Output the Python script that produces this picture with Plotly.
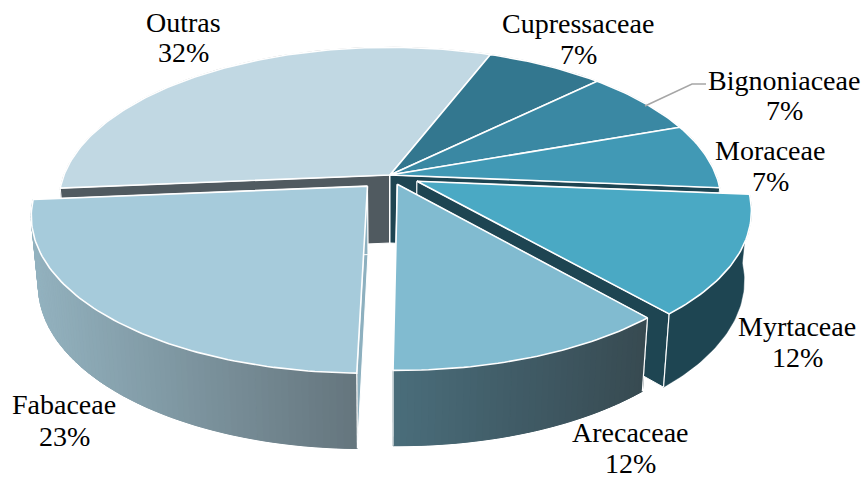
import math
import plotly.graph_objects as go

categories = ["Cupressaceae", "Bignoniaceae", "Moraceae", "Myrtaceae", "Arecaceae", "Fabaceae", "Outras"]
values = [6.8, 6.9, 6.8, 12.3, 11.6, 23.4, 32.2]
pulls = [0, 0, 0, 0.092, 0.065, 0.10, 0]
top_colors = ["#33778f", "#3a88a3", "#4199b5", "#4aa9c4", "#81bbd0", "#a6cbdb", "#c1d8e3"]
side_left = ["#1e4552", "#1e4552", "#1e4552", "#1e4552", "#4a6d7b", "#93b2bf", "#505a60"]
side_right = ["#1e4552", "#1e4552", "#1e4552", "#1e4552", "#374a51", "#65757d", "#505a60"]
wall_start = ["#1e4552", "#1e4552", "#1e4552", "#1e4552", "#1e4552", "#8db0bf", "#505a60"]
wall_end = ["#1e4552", "#1e4552", "#1e4552", "#1e4552", "#1e4552", "#8db0bf", "#505a60"]
label_xy = [(578, 23, 54), (784, 80, 110), (770, 150, 181), (797, 326, 357), (630, 432, 463), (64, 404, 436), (183, 22, 52)]
leader_x = [645, 692, 706]
leader_y = [106, 84, 84]

START = 21.0
CX, CY, A, B, K, DEPTH, SHRINK = 390.0, 175.0, 150.0, 326.0, 0.1746, 68.0, 0.98
W, H = 864, 479


def proj(u, v, bottom=False):
    s = 1 / (1 - K * v)
    x, y = B * u * s, A * v * s
    if bottom:
        return CX + x * SHRINK, CY + y + DEPTH * math.sqrt(s)
    return CX + x, CY + y


def hexmix(a, b, t):
    ca = [int(a[i:i + 2], 16) for i in (1, 3, 5)]
    cb = [int(b[i:i + 2], 16) for i in (1, 3, 5)]
    return "rgb(%d,%d,%d)" % tuple(round(p + (q - p) * t) for p, q in zip(ca, cb))


fig = go.Figure()


def poly(xs, ys, fill, line="white", width=1.5):
    fig.add_trace(go.Scatter(x=list(xs) + [xs[0]], y=list(ys) + [ys[0]], mode="lines", fill="toself",
                             fillcolor=fill, line=dict(color=line, width=width), hoverinfo="skip", showlegend=False))


def line(xs, ys, color="white", width=1.5):
    fig.add_trace(go.Scatter(x=xs, y=ys, mode="lines", line=dict(color=color, width=width),
                             hoverinfo="skip", showlegend=False))


total = sum(values)
angles = []
a = START
for val in values:
    angles.append((a, a + val / total * 360))
    a += val / total * 360


def slice_geom(i):
    a0, a1 = angles[i]
    mid = math.radians((a0 + a1) / 2)
    u0, v0 = pulls[i] * math.sin(mid), -pulls[i] * math.cos(mid)
    n = max(6, int(a1 - a0))
    pts = []
    for j in range(n + 1):
        th = math.radians(a0 + (a1 - a0) * j / n)
        pts.append((u0 + math.sin(th), v0 - math.cos(th)))
    return (u0, v0), pts


def draw_walls(i):
    apex, pts = slice_geom(i)
    for edge, col in ((pts[0], wall_start[i]), (pts[-1], wall_end[i])):
        t1, t2 = proj(*apex), proj(*edge)
        b2, b1 = proj(*edge, True), proj(*apex, True)
        poly([t1[0], t2[0], b2[0], b1[0]], [t1[1], t2[1], b2[1], b1[1]], col, "white", 1)


def draw_side(i, start_edge=True, end_edge=True):
    _, pts = slice_geom(i)
    n = len(pts) - 1
    tops = [proj(*p) for p in pts]
    bots = [proj(*p, True) for p in pts]
    lo, hi = min(p[0] for p in tops), max(p[0] for p in tops)
    # base shape, so the strips of a gradient leave no seams
    ring = tops + bots[::-1]
    base = hexmix(side_left[i], side_right[i], 0.5)
    poly([p[0] for p in ring], [p[1] for p in ring], base, base, 0.5)
    if side_left[i] != side_right[i]:
        for j in range(n):
            t1, t2, b2, b1 = tops[j], tops[j + 1], bots[j + 1], bots[j]
            t = ((t1[0] + t2[0]) / 2 - lo) / max(hi - lo, 1)
            col = hexmix(side_left[i], side_right[i], t)
            poly([t1[0], t2[0], b2[0], b1[0]], [t1[1], t2[1], b2[1], b1[1]], col, col, 1)
    if start_edge:
        line([tops[0][0], bots[0][0]], [tops[0][1], bots[0][1]], "white", 1.2)
    if end_edge:
        line([tops[-1][0], bots[-1][0]], [tops[-1][1], bots[-1][1]], "white", 1.2)


def draw_top(i):
    apex, pts = slice_geom(i)
    c = [proj(*apex)] + [proj(*p) for p in pts]
    poly([p[0] for p in c], [p[1] for p in c], top_colors[i], "white", 1.6)


# painter's order: back group first, then exploded slices
main = [6, 0, 1, 2]
for i in main:
    draw_side(i, False, False)
for i in main:
    draw_walls(i)
for i in main:
    draw_top(i)
for i, se, ee in [(3, False, True), (4, True, True), (5, True, False)]:
    draw_walls(i)
    draw_side(i, se, ee)
    draw_top(i)

line(leader_x, leader_y, "#a6a6a6", 1.5)

ann = []
for name, val, (x, y1, y2) in zip(categories, values, label_xy):
    for txt, y in ((name, y1), (f"{round(val)}%", y2)):
        ann.append(dict(x=x, y=y, xref="x", yref="y", text=txt, showarrow=False, xanchor="center", yanchor="middle",
                        font=dict(family="Liberation Serif", size=28, color="#000000")))

fig.update_layout(width=W, height=H, margin=dict(l=0, r=0, t=0, b=0), paper_bgcolor="white", plot_bgcolor="white",
                  showlegend=False, annotations=ann,
                  xaxis=dict(range=[0, W], visible=False, fixedrange=True),
                  yaxis=dict(range=[H, 0], visible=False, fixedrange=True))
fig.write_html("out.html", config=dict(displayModeBar=False),
               post_script="document.body.style.margin='0';document.body.style.overflow='hidden';")
